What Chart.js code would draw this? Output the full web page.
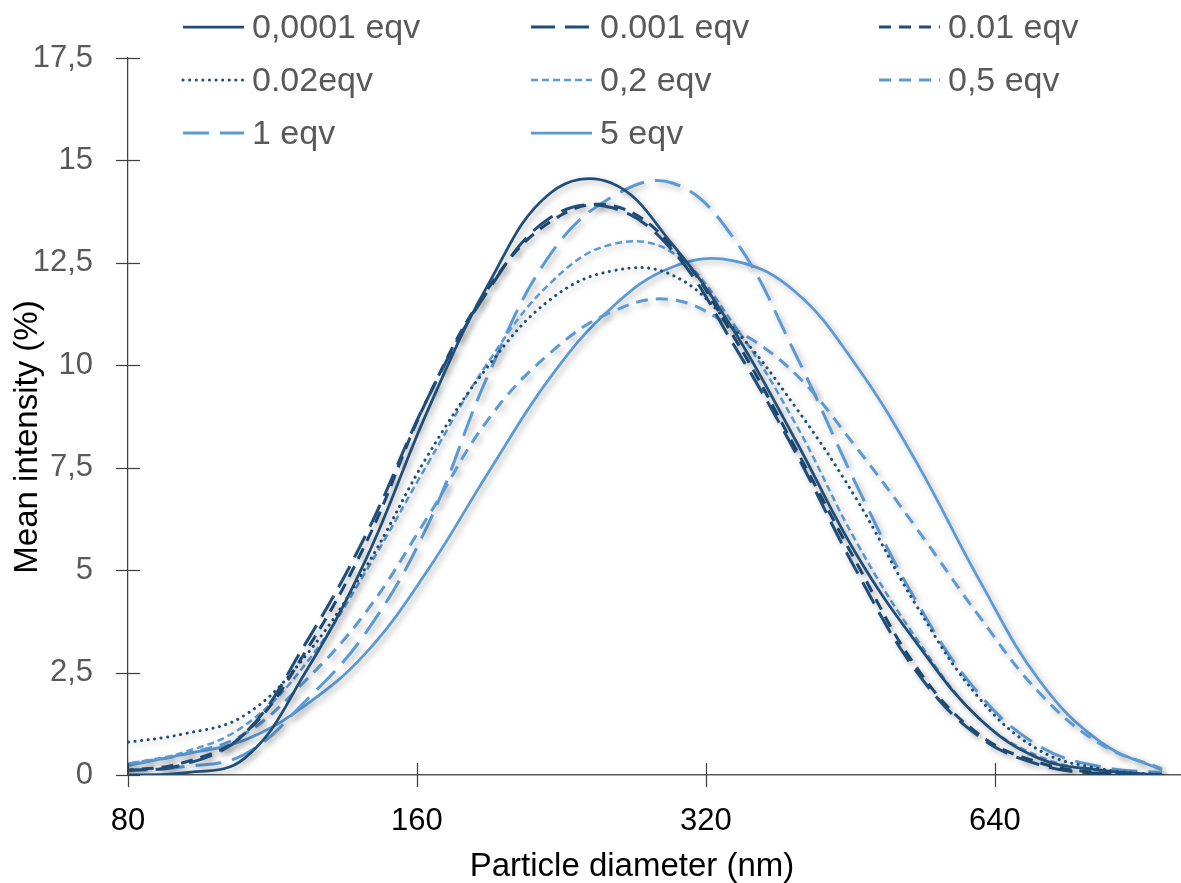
<!DOCTYPE html>
<html>
<head>
<meta charset="utf-8">
<script src="https://cdn.jsdelivr.net/npm/chart.js@4.4.1/dist/chart.umd.min.js"></script>
<style>
  html, body { margin: 0; padding: 0; background: #fff; }
  #wrap { width: 1181px; height: 883px; }
</style>
</head>
<body>
<div id="wrap"><canvas id="chart" width="1181" height="883"></canvas></div>
<script>
// size classes (nm) and mean intensity (%) per sample
const sizes = [78.82, 91.28, 105.7, 122.4, 141.8, 164.2, 190.1, 220.2, 255.0, 295.3, 342.0, 396.1, 458.7, 531.2, 615.1, 712.4, 825.0, 955.4];
const eqv00001 = [0, 0.05, 0.4, 2.5, 5.3, 8.9, 12.0, 14.2, 14.45, 12.95, 10.85, 8.2, 5.4, 3.2, 1.4, 0.4, 0.12, 0];
const eqv0001 = [0.1, 0.25, 1.0, 3.2, 5.9, 9.2, 11.85, 13.6, 13.85, 12.8, 10.5, 7.9, 5.0, 2.5, 0.95, 0.25, 0.03, 0];
const eqv001 = [0.1, 0.3, 1.0, 3.0, 5.7, 9.2, 11.9, 13.5, 13.9, 12.9, 10.7, 8.0, 5.2, 2.6, 1.0, 0.3, 0.05, 0];
const eqv002 = [0.78, 1.0, 1.45, 2.9, 5.1, 7.8, 10.0, 11.6, 12.3, 12.2, 10.9, 9.0, 6.75, 4.1, 1.9, 0.6, 0.15, 0];
const eqv02 = [0.25, 0.55, 1.2, 2.7, 5.0, 7.6, 10.1, 12.0, 12.95, 12.75, 11.0, 8.6, 5.7, 3.3, 1.4, 0.45, 0.1, 0];
const eqv05 = [0.25, 0.5, 1.0, 2.3, 4.0, 6.3, 8.7, 10.3, 11.3, 11.6, 10.9, 9.8, 8.0, 6.0, 3.9, 2.0, 0.75, 0.15];
const eqv1 = [0.1, 0.2, 0.5, 1.8, 3.5, 6.1, 9.8, 12.7, 14.1, 14.45, 13.1, 10.3, 7.1, 4.2, 2.0, 0.7, 0.2, 0.05];
const eqv5 = [0.2, 0.5, 0.85, 1.7, 3.0, 5.0, 7.4, 9.7, 11.4, 12.4, 12.55, 11.8, 10.0, 7.6, 4.8, 2.3, 0.8, 0.12];

const labels = ['0,0001 eqv', '0.001 eqv', '0.01 eqv', '0.02eqv', '0,2 eqv', '0,5 eqv', '1 eqv', '5 eqv'];
const xTicks = [80, 160, 320, 640];

const dark = '#1F4E79';
const light = '#5B9BD5';
const fontFamily = "'Liberation Sans', Arial, sans-serif";

function pts(values) {
    return sizes.map((s, i) => ({ x: s, y: values[i] }));
}

function series(label, values, color, dash, width, cap) {
    return {
        label: label,
        data: pts(values),
        borderColor: color,
        backgroundColor: color,
        borderWidth: width,
        borderDash: dash,
        borderCapStyle: cap || 'butt',
        pointRadius: 0,
        tension: 0.4,
        fill: false
    };
}

const datasets = [
    series(labels[0], eqv00001, dark, [], 2.75),
    series(labels[1], eqv0001, dark, [24, 10], 3),
    series(labels[2], eqv001, dark, [12, 8], 3),
    series(labels[3], eqv002, dark, [0.1, 6.5], 3, 'round'),
    series(labels[4], eqv02, light, [7, 4], 2.5),
    series(labels[5], eqv05, light, [12, 8], 3),
    series(labels[6], eqv1, light, [26, 11], 3),
    series(labels[7], eqv5, light, [], 2.75)
];

// soft drop shadow under every curve, like the original
const shadowPlugin = {
    id: 'shadow',
    beforeDatasetDraw(chart) {
        const ctx = chart.ctx;
        ctx.save();
        ctx.shadowColor = 'rgba(0,0,0,0.3)';
        ctx.shadowBlur = 6;
        ctx.shadowOffsetX = 3;
        ctx.shadowOffsetY = 3;
    },
    afterDatasetDraw(chart) {
        chart.ctx.restore();
    }
};

// crossing tick marks, axis titles and the three-column legend
const decorPlugin = {
    id: 'decor',
    afterDraw(chart) {
        const ctx = chart.ctx;
        const xs = chart.scales.x;
        const ys = chart.scales.y;
        const area = chart.chartArea;
        ctx.save();
        ctx.lineWidth = 1.25;
        ctx.strokeStyle = '#404040';
        xs.ticks.forEach(t => {
            const px = Math.round(xs.getPixelForValue(t.value)) + 0.5;
            ctx.beginPath();
            ctx.moveTo(px, area.bottom - 12);
            ctx.lineTo(px, area.bottom + 12);
            ctx.stroke();
        });
        ys.ticks.forEach(t => {
            const py = Math.round(ys.getPixelForValue(t.value)) + 0.5;
            ctx.beginPath();
            ctx.moveTo(area.left - 12, py);
            ctx.lineTo(area.left + 12, py);
            ctx.stroke();
        });

        ctx.fillStyle = '#000';
        ctx.font = '33px ' + fontFamily;
        ctx.textAlign = 'center';
        ctx.textBaseline = 'alphabetic';
        ctx.fillText('Particle diameter (nm)', 632, 876);
        ctx.save();
        ctx.translate(37, 437);
        ctx.rotate(-Math.PI / 2);
        ctx.fillText('Mean intensity (%)', 0, 0);
        ctx.restore();

        const colX = [183, 531, 879];
        const rowY = [27, 80, 133];
        ctx.font = '34px ' + fontFamily;
        ctx.textAlign = 'left';
        ctx.textBaseline = 'middle';
        chart.data.datasets.forEach((ds, i) => {
            const x = colX[i % 3];
            const y = rowY[Math.floor(i / 3)];
            ctx.save();
            ctx.strokeStyle = ds.borderColor;
            ctx.lineWidth = ds.borderWidth;
            ctx.lineCap = ds.borderCapStyle;
            ctx.setLineDash(ds.borderDash);
            ctx.beginPath();
            ctx.moveTo(x, y);
            ctx.lineTo(x + 61, y);
            ctx.stroke();
            ctx.restore();
            ctx.fillStyle = '#595959';
            ctx.fillText(ds.label, x + 69, y + 2);
        });
        ctx.restore();
    }
};

new Chart(document.getElementById('chart').getContext('2d'), {
    type: 'line',
    data: { datasets: datasets },
    options: {
        responsive: false,
        animation: false,
        events: [],
        layout: { padding: { left: 0, right: 0, top: 58, bottom: 0 } },
        plugins: {
            legend: { display: false },
            tooltip: { enabled: false }
        },
        scales: {
            x: {
                type: 'logarithmic',
                min: 80,
                max: 1000,
                afterBuildTicks: scale => {
                    scale.ticks = xTicks.map(v => ({ value: v }));
                },
                afterFit: scale => { scale.height = 108; },
                grid: { display: false, drawTicks: false },
                border: { display: true, color: '#595959', width: 1.5 },
                ticks: {
                    color: '#000',
                    font: { family: fontFamily, size: 31 },
                    padding: 28,
                    maxRotation: 0,
                    autoSkip: false,
                    callback: v => String(v)
                }
            },
            y: {
                min: 0,
                max: 17.5,
                afterFit: scale => { scale.width = 128; },
                grid: { display: false, drawTicks: false },
                border: { display: true, color: '#404040', width: 1.25 },
                ticks: {
                    stepSize: 2.5,
                    color: '#595959',
                    font: { family: fontFamily, size: 31 },
                    padding: 35,
                    callback: v => String(v).replace('.', ',')
                }
            }
        }
    },
    plugins: [shadowPlugin, decorPlugin]
});
</script>
</body>
</html>
